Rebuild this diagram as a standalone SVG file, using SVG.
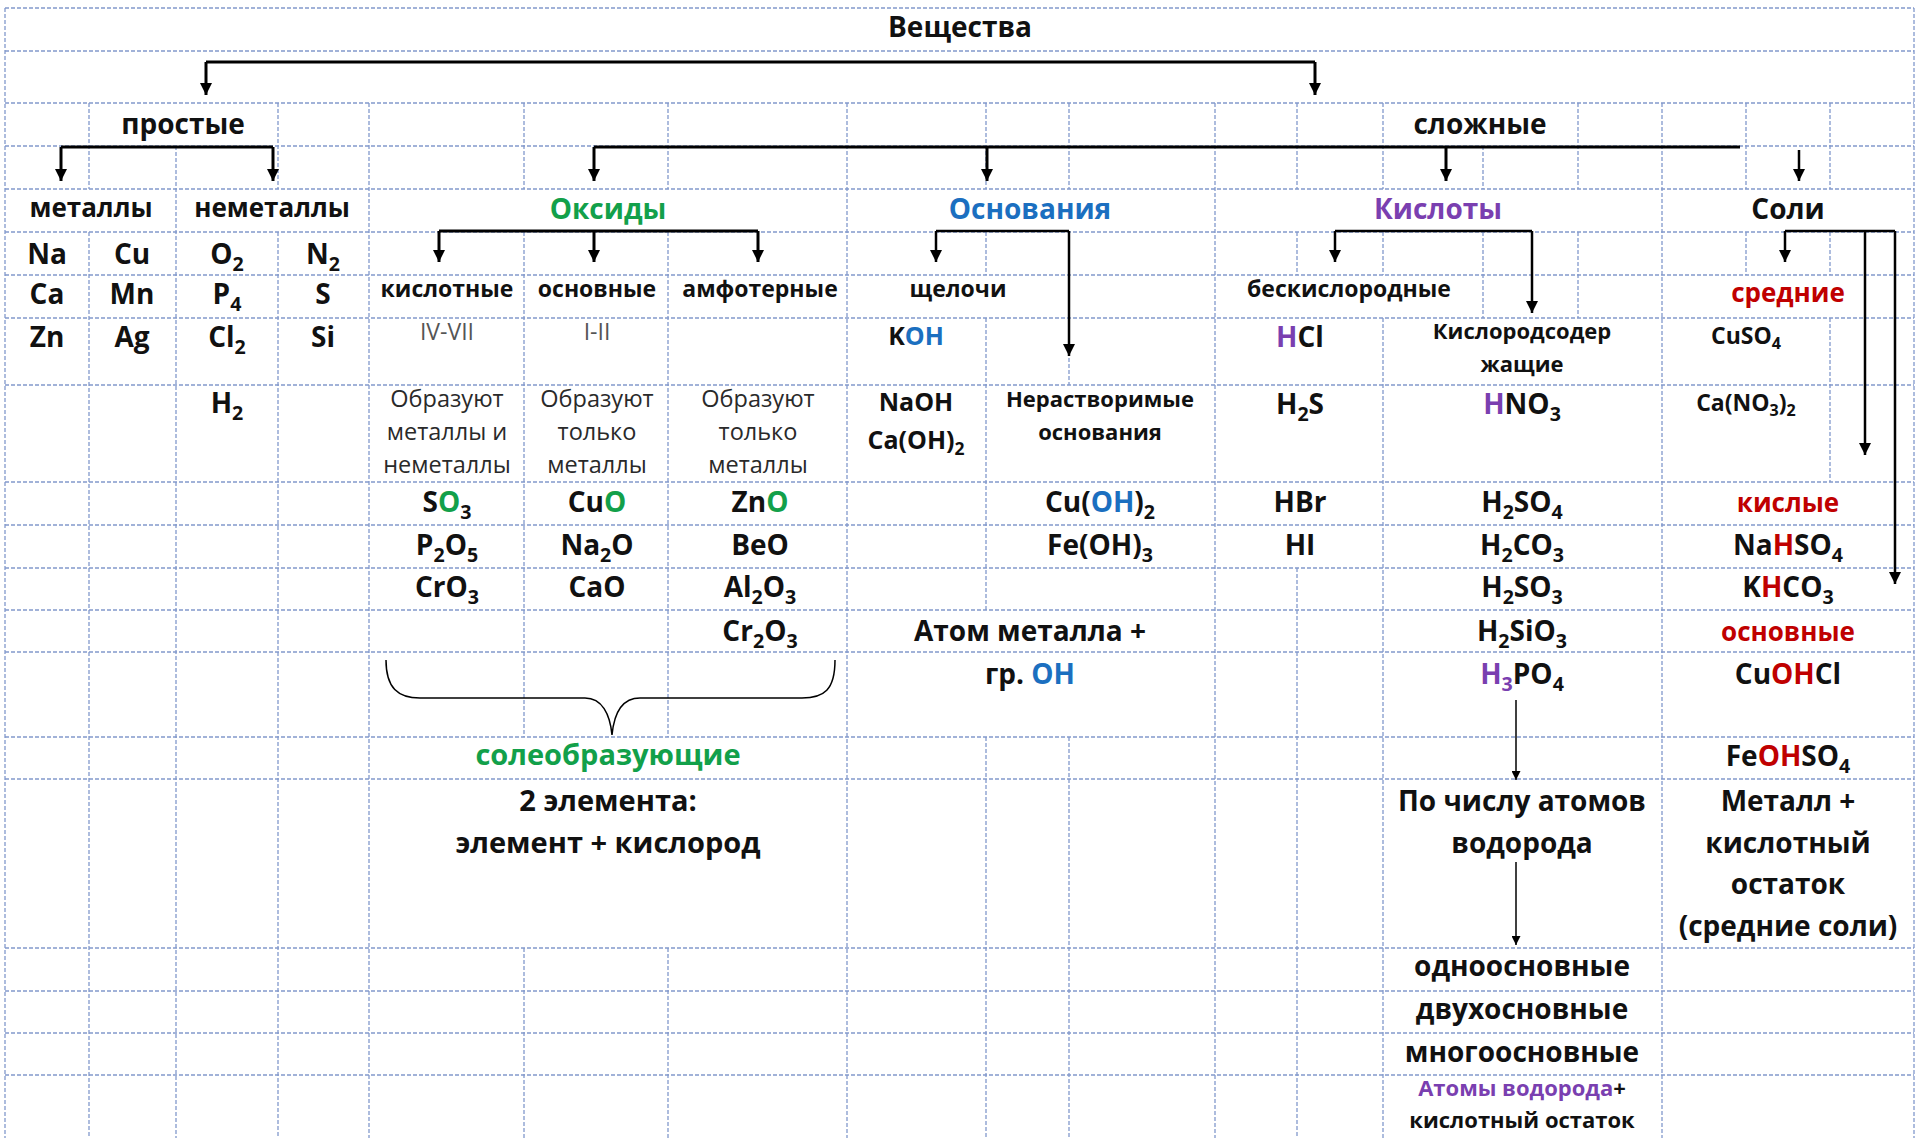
<svg xmlns="http://www.w3.org/2000/svg" width="1915" height="1138" viewBox="0 0 1915 1138">
<defs>
<style>
.g{stroke:#8299cc;stroke-width:1.3;stroke-dasharray:4 2;fill:none}
.t{font-family:"Open Sans","Noto Sans","Liberation Sans",sans-serif;font-weight:bold;text-anchor:middle;fill:#111}
.f29{font-size:29px}.f28{font-size:28px}.f26{font-size:26px}.f25{font-size:25px}.f23{font-size:23px}.f22{font-size:22px}.f21{font-size:21px}
.r{font-weight:normal;fill:#2a2a2a;font-size:23.5px}
.gr{font-weight:normal;fill:#555;font-size:23px}
.sb{font-size:70%}
.green{fill:#12a04a}.blue{fill:#1b6fc0}.purple{fill:#7a3fb0}.red{fill:#c00000}
.c3{stroke:#000;stroke-width:3;fill:none}
.c2{stroke:#000;stroke-width:2.5;fill:none}
.c1{stroke:#000;stroke-width:1.5;fill:none}
</style>
<marker id="ah" viewBox="0 0 10 10" refX="10" refY="5" markerWidth="13" markerHeight="12" markerUnits="userSpaceOnUse" orient="auto"><path d="M0,0L10,5L0,10z" fill="#000"/></marker>
<marker id="as" viewBox="0 0 10 10" refX="10" refY="5" markerWidth="11" markerHeight="9" markerUnits="userSpaceOnUse" orient="auto"><path d="M0,0L10,5L0,10z" fill="#000"/></marker>
</defs>
<rect width="1915" height="1138" fill="#fff"/>
<g id="grid">
<path class="g" d="M5,8H1914M5,51H1914M5,103H1914M5,146H1914M5,189H1914M5,232H1914M5,275H1914M5,318H1914M5,385H1914M5,482H1914M5,525H1914M5,568H1914M5,610H1914M5,652H1914M5,737H1914M5,779H1914M5,948H1914M5,991H1914M5,1033H1914M5,1075H1914"/>
<path class="g" d="M5,8V1138M1914,8V1138M89,103V189M89,232V1138M176,146V1138M278,103V189M278,232V1138M369,103V1138M524,103V189M524,232V737M524,948V1138M668,103V189M668,232V737M668,948V1138M847,103V1138M986,103V189M986,232V275M986,318V610M986,737V1138M1069,103V189M1069,232V385M1069,737V1138M1215,103V1138M1297,103V189M1297,232V275M1297,568V1138M1383,103V189M1383,232V275M1383,318V1138M1483,146V189M1483,232V318M1578,103V189M1578,232V318M1662,103V1138M1746,103V189M1746,232V275M1830,103V189M1830,232V275M1830,318V482"/>
</g>
<g id="connectors">
<path class="c3" d="M206,62H1315"/>
<path class="c3" d="M206,62V95" marker-end="url(#ah)"/>
<path class="c3" d="M1315,62V95" marker-end="url(#ah)"/>
<path class="c3" d="M61,147H273"/>
<path class="c3" d="M61,147V181" marker-end="url(#ah)"/>
<path class="c3" d="M273,147V181" marker-end="url(#ah)"/>
<path class="c3" d="M594,147H1740"/>
<path class="c3" d="M594,147V181" marker-end="url(#ah)"/>
<path class="c3" d="M987,147V181" marker-end="url(#ah)"/>
<path class="c3" d="M1446,147V181" marker-end="url(#ah)"/>
<path class="c2" d="M1799,150V181" marker-end="url(#ah)"/>
<path class="c3" d="M439,231H758"/>
<path class="c3" d="M439,231V262" marker-end="url(#ah)"/>
<path class="c3" d="M594,231V262" marker-end="url(#ah)"/>
<path class="c3" d="M758,231V262" marker-end="url(#ah)"/>
<path class="c2" d="M936,231H1069"/>
<path class="c2" d="M936,231V262" marker-end="url(#ah)"/>
<path class="c2" d="M1069,231V356" marker-end="url(#ah)"/>
<path class="c2" d="M1335,231H1532"/>
<path class="c2" d="M1335,231V262" marker-end="url(#ah)"/>
<path class="c2" d="M1532,231V313" marker-end="url(#ah)"/>
<path class="c2" d="M1785,231H1895"/>
<path class="c2" d="M1785,231V262" marker-end="url(#ah)"/>
<path class="c2" d="M1865,231V455" marker-end="url(#ah)"/>
<path class="c2" d="M1895,231V584" marker-end="url(#ah)"/>
<path class="c1" d="M1516,700V780" marker-end="url(#as)"/>
<path class="c1" d="M1516,862V945" marker-end="url(#as)"/>
<path class="c1" d="M386,660C386,688 398,698 420,698L585,698C602,698 610,714 612,735C614,714 622,698 640,698L802,698C824,698 835,690 835,660"/>
</g>
<g id="n-veshchestva"><text class="t f28" x="960" y="37">Вещества</text></g>
<g id="n-prostye"><text class="t f28" x="183" y="134">простые</text></g>
<g id="n-slozhnye"><text class="t f28" x="1480" y="134">сложные</text></g>
<g id="n-metally"><text class="t f26" x="91" y="217">металлы</text>
<text class="t f28" x="47" y="264">Na</text><text class="t f28" x="132" y="264">Cu</text>
<text class="t f28" x="47" y="304">Ca</text><text class="t f28" x="132" y="304">Mn</text>
<text class="t f28" x="47" y="347">Zn</text><text class="t f28" x="132" y="347">Ag</text></g>
<g id="n-nemetally"><text class="t f26" x="272" y="217">неметаллы</text>
<text class="t f28" x="227" y="264">O<tspan class="sb" dy="7">2</tspan></text><text class="t f28" x="323" y="264">N<tspan class="sb" dy="7">2</tspan></text>
<text class="t f28" x="227" y="304">P<tspan class="sb" dy="7">4</tspan></text><text class="t f28" x="323" y="304">S</text>
<text class="t f28" x="227" y="347">Cl<tspan class="sb" dy="7">2</tspan></text><text class="t f28" x="323" y="347">Si</text>
<text class="t f28" x="227" y="413">H<tspan class="sb" dy="7">2</tspan></text></g>
<g id="n-oksidy"><text class="t f28 green" x="608" y="219">Оксиды</text></g>
<g id="n-kislotnye-oksidy"><text class="t f23" x="447" y="297">кислотные</text>
<text class="t gr" x="447" y="340">IV-VII</text>
<text class="t r" x="447" y="407">Образуют</text><text class="t r" x="447" y="440">металлы и</text><text class="t r" x="447" y="473">неметаллы</text>
<text class="t f28" x="447" y="512">S<tspan class="green">O</tspan><tspan class="sb" dy="7">3</tspan></text>
<text class="t f28" x="447" y="555">P<tspan class="sb" dy="7">2</tspan><tspan dy="-7">O</tspan><tspan class="sb" dy="7">5</tspan></text>
<text class="t f28" x="447" y="597">CrO<tspan class="sb" dy="7">3</tspan></text></g>
<g id="n-osnovnye-oksidy"><text class="t f23" x="597" y="297">основные</text>
<text class="t gr" x="597" y="340">I-II</text>
<text class="t r" x="597" y="407">Образуют</text><text class="t r" x="597" y="440">только</text><text class="t r" x="597" y="473">металлы</text>
<text class="t f28" x="597" y="512">Cu<tspan class="green">O</tspan></text>
<text class="t f28" x="597" y="555">Na<tspan class="sb" dy="7">2</tspan><tspan dy="-7">O</tspan></text>
<text class="t f28" x="597" y="597">CaO</text></g>
<g id="n-amfoternye"><text class="t f23" x="760" y="297">амфотерные</text>
<text class="t r" x="758" y="407">Образуют</text><text class="t r" x="758" y="440">только</text><text class="t r" x="758" y="473">металлы</text>
<text class="t f28" x="760" y="512">Zn<tspan class="green">O</tspan></text>
<text class="t f28" x="760" y="555">BeO</text>
<text class="t f28" x="760" y="597">Al<tspan class="sb" dy="7">2</tspan><tspan dy="-7">O</tspan><tspan class="sb" dy="7">3</tspan></text>
<text class="t f28" x="760" y="641">Cr<tspan class="sb" dy="7">2</tspan><tspan dy="-7">O</tspan><tspan class="sb" dy="7">3</tspan></text></g>
<g id="n-soleobrazuyushchie"><text class="t f29 green" x="608" y="765">солеобразующие</text>
<text class="t f29" x="608" y="811">2 элемента:</text>
<text class="t f29" x="608" y="853">элемент + кислород</text></g>
<g id="n-osnovaniya"><text class="t f28 blue" x="1030" y="219">Основания</text></g>
<g id="n-shchelochi"><text class="t f23" x="958" y="297">щелочи</text>
<text class="t f25" x="916" y="345">K<tspan class="blue">OH</tspan></text>
<text class="t f25" x="916" y="411">NaOH</text>
<text class="t f25" x="916" y="449">Ca(OH)<tspan class="sb" dy="6">2</tspan></text></g>
<g id="n-nerastvorimye"><text class="t f22" x="1100" y="407">Нерастворимые</text><text class="t f22" x="1100" y="440">основания</text>
<text class="t f28" x="1100" y="512">Cu(<tspan class="blue">OH</tspan>)<tspan class="sb" dy="7">2</tspan></text>
<text class="t f28" x="1100" y="555">Fe(OH)<tspan class="sb" dy="7">3</tspan></text></g>
<g id="n-atom-metalla"><text class="t f28" x="1030" y="641">Атом металла +</text>
<text class="t f28" x="1030" y="684">гр. <tspan class="blue">OH</tspan></text></g>
<g id="n-kisloty"><text class="t f28 purple" x="1438" y="219">Кислоты</text></g>
<g id="n-beskislorodnye"><text class="t f23" x="1349" y="297">бескислородные</text>
<text class="t f28" x="1300" y="347"><tspan class="purple">H</tspan>Cl</text>
<text class="t f28" x="1300" y="414">H<tspan class="sb" dy="7">2</tspan><tspan dy="-7">S</tspan></text>
<text class="t f28" x="1300" y="512">HBr</text>
<text class="t f28" x="1300" y="555">HI</text></g>
<g id="n-kislorodsoderzhashchie"><text class="t f22" x="1522" y="339">Кислородсодер</text><text class="t f22" x="1522" y="372">жащие</text>
<text class="t f28" x="1522" y="414"><tspan class="purple">H</tspan>NO<tspan class="sb" dy="7">3</tspan></text>
<text class="t f28" x="1522" y="512">H<tspan class="sb" dy="7">2</tspan><tspan dy="-7">SO</tspan><tspan class="sb" dy="7">4</tspan></text>
<text class="t f28" x="1522" y="555">H<tspan class="sb" dy="7">2</tspan><tspan dy="-7">CO</tspan><tspan class="sb" dy="7">3</tspan></text>
<text class="t f28" x="1522" y="597">H<tspan class="sb" dy="7">2</tspan><tspan dy="-7">SO</tspan><tspan class="sb" dy="7">3</tspan></text>
<text class="t f28" x="1522" y="641">H<tspan class="sb" dy="7">2</tspan><tspan dy="-7">SiO</tspan><tspan class="sb" dy="7">3</tspan></text>
<text class="t f28" x="1522" y="684"><tspan class="purple">H</tspan><tspan class="sb purple" dy="7">3</tspan><tspan dy="-7">PO</tspan><tspan class="sb" dy="7">4</tspan></text></g>
<g id="n-po-chislu"><text class="t f28" x="1522" y="811">По числу атомов</text><text class="t f28" x="1522" y="853">водорода</text></g>
<g id="n-osnovnost"><text class="t f28" x="1522" y="976">одноосновные</text>
<text class="t f28" x="1522" y="1019">двухосновные</text>
<text class="t f28" x="1522" y="1062">многоосновные</text>
<text class="t f22" x="1522" y="1096"><tspan class="purple">Атомы водорода</tspan>+</text>
<text class="t f22" x="1522" y="1128">кислотный остаток</text></g>
<g id="n-soli"><text class="t f28" x="1788" y="219">Соли</text></g>
<g id="n-srednie"><text class="t f26 red" x="1788" y="302">средние</text>
<text class="t f23" x="1746" y="344">CuSO<tspan class="sb" dy="5">4</tspan></text>
<text class="t f23" x="1746" y="411">Ca(NO<tspan class="sb" dy="5">3</tspan><tspan dy="-5">)</tspan><tspan class="sb" dy="5">2</tspan></text></g>
<g id="n-kislye"><text class="t f26 red" x="1788" y="512">кислые</text>
<text class="t f28" x="1788" y="555">Na<tspan class="red">H</tspan>SO<tspan class="sb" dy="7">4</tspan></text>
<text class="t f28" x="1788" y="597">K<tspan class="red">H</tspan>CO<tspan class="sb" dy="7">3</tspan></text></g>
<g id="n-osnovnye-soli"><text class="t f26 red" x="1788" y="641">основные</text>
<text class="t f28" x="1788" y="684">Cu<tspan class="red">OH</tspan>Cl</text>
<text class="t f28" x="1788" y="766">Fe<tspan class="red">OH</tspan>SO<tspan class="sb" dy="7">4</tspan></text></g>
<g id="n-metall-ostatok"><text class="t f28" x="1788" y="811">Металл +</text>
<text class="t f28" x="1788" y="853">кислотный</text>
<text class="t f28" x="1788" y="894">остаток</text>
<text class="t f28" x="1788" y="936">(средние соли)</text></g>
</svg>
